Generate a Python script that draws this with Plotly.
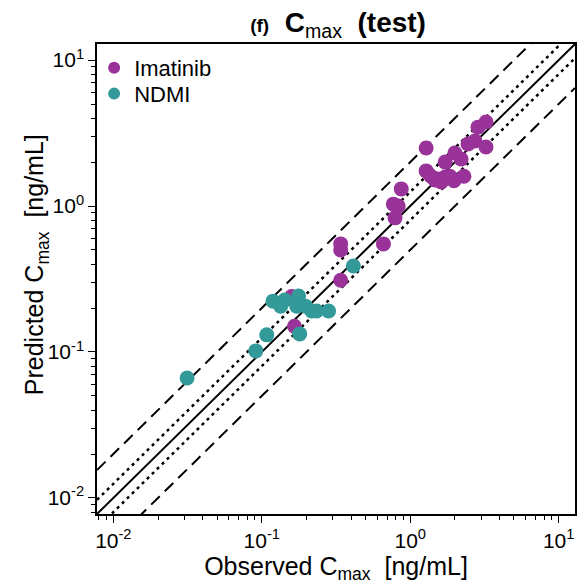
import plotly.graph_objects as go

# ---- data ----
imatinib_obs = [1.28, 2.86, 3.24, 2.45, 2.73, 3.24, 2.00, 2.20, 1.72, 1.28, 1.38, 1.54, 1.72, 1.85, 2.30,
                1.47, 1.62, 1.97, 0.87, 0.77, 0.83, 0.79, 0.66, 0.34, 0.34, 0.34, 0.159, 0.166]
imatinib_pred = [2.50, 3.47, 3.76, 2.66, 2.79, 2.54, 2.31, 2.10, 2.00, 1.74, 1.60, 1.53, 1.58, 1.60, 1.60,
                 1.51, 1.46, 1.49, 1.31, 1.03, 1.00, 0.83, 0.55, 0.55, 0.50, 0.31, 0.24, 0.15]

ndmi_obs = [0.0314, 0.0912, 0.108, 0.119, 0.134, 0.143, 0.177, 0.172, 0.197, 0.217, 0.234, 0.282, 0.180, 0.414]
ndmi_pred = [0.0664, 0.1017, 0.131, 0.223, 0.206, 0.227, 0.242, 0.206, 0.206, 0.191, 0.191, 0.191, 0.133, 0.388]

axis_range_log = [-2.11, 1.11]
fold_solid = 1.0
fold_dotted = 1.25
fold_dashed = 2.0

tick_vals = [0.01, 0.1, 1, 10]
tick_text = ["10<sup>-2</sup>", "10<sup>-1</sup>", "10<sup>0</sup>", "10<sup>1</sup>"]
minor_vals = [m * 10.0 ** e for e in range(-3, 2) for m in range(2, 10)]

purple = "#993399"
teal = "#339999"
font = "Liberation Sans, Arial, sans-serif"

fig = go.Figure()

lx = [10 ** axis_range_log[0], 10 ** axis_range_log[1]]
for f, dash, w in [(fold_solid, "solid", 2),
                   (fold_dotted, "3px,4px", 2.5), (1 / fold_dotted, "3px,4px", 2.5),
                   (fold_dashed, "12px,7px", 2), (1 / fold_dashed, "12px,7px", 2)]:
    fig.add_trace(go.Scatter(x=lx, y=[v * f for v in lx], mode="lines",
                             line=dict(color="black", width=w, dash=dash),
                             showlegend=False, hoverinfo="skip"))

fig.add_trace(go.Scatter(x=imatinib_obs, y=imatinib_pred, mode="markers", name="Imatinib",
                         marker=dict(color=purple, size=15, line=dict(width=0)), legend="legend"))
fig.add_trace(go.Scatter(x=ndmi_obs, y=ndmi_pred, mode="markers", name="NDMI",
                         marker=dict(color=teal, size=15, line=dict(width=0)), legend="legend2"))

axis_common = dict(type="log", range=axis_range_log, showgrid=False, zeroline=False,
                   showline=True, linecolor="black", linewidth=1.5, mirror=True,
                   ticks="outside", ticklen=7, tickwidth=1.3, tickcolor="black",
                   tickmode="array", tickvals=tick_vals, ticktext=tick_text,
                   tickfont=dict(family=font, size=21, color="black"),
                   minor=dict(tickmode="array", tickvals=minor_vals, ticks="outside",
                              ticklen=4, tickwidth=1, tickcolor="black", showgrid=False))

fig.update_xaxes(**axis_common,
                 title=dict(text="Observed C<sub>max</sub>  [ng/mL]",
                            font=dict(family=font, size=25, color="black"), standoff=4))
fig.update_yaxes(**axis_common)

fig.add_annotation(text="Predicted C<sub>max</sub>  [ng/mL]", textangle=-90,
                   xref="paper", yref="paper", x=-0.127, y=0.53,
                   xanchor="center", yanchor="middle", showarrow=False,
                   font=dict(family=font, size=25, color="black"))

leg_common = dict(xanchor="left", yanchor="middle", bgcolor="rgba(0,0,0,0)", borderwidth=0,
                  font=dict(family=font, size=22, color="black"), itemsizing="constant")

fig.update_layout(
    width=577, height=576,
    margin=dict(l=89, r=8, t=36, b=70),
    plot_bgcolor="white", paper_bgcolor="white",
    title=dict(text="<b><span style='font-size:19px;font-weight:bold'>(f)</span>  C<span style='font-weight:normal'><sub>max</sub></span>  (test)</b>",
               x=0.572, xanchor="center", y=0.976, yanchor="middle",
               font=dict(family=font, size=28, color="black")),
    legend=dict(x=-0.006, y=0.949, **leg_common),
    legend2=dict(x=-0.006, y=0.894, **leg_common),
    showlegend=True,
)

fig.write_html("out.html")
